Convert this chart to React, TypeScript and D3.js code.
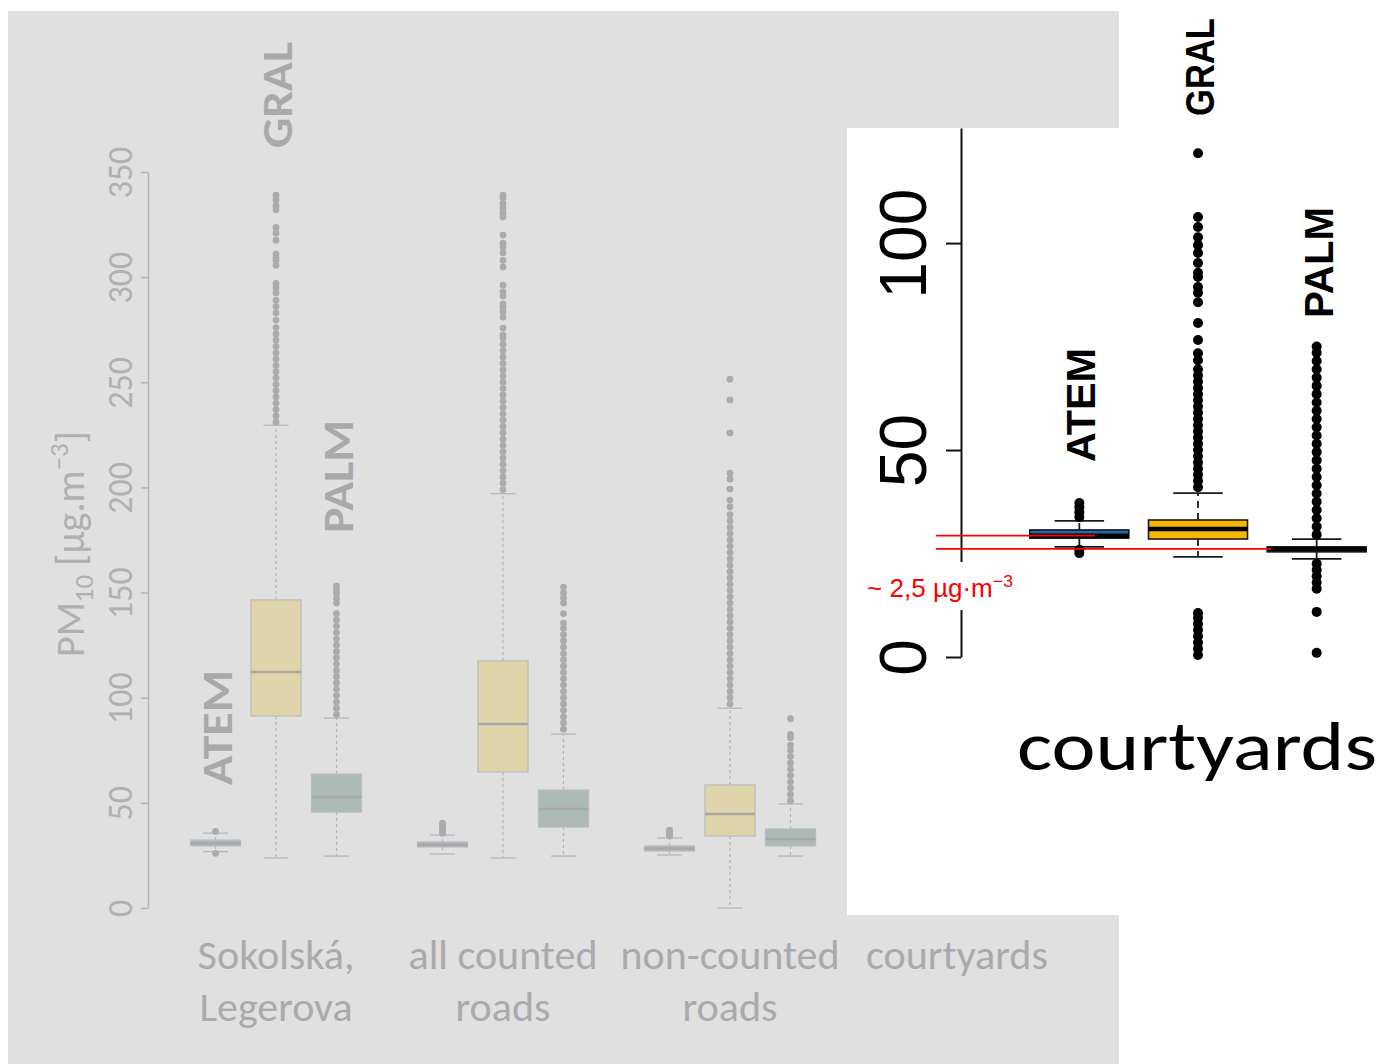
import React, { useEffect, useRef } from "react";
import * as d3 from "d3";

// PM10 boxplots per model (ATEM, GRAL, PALM) for street categories + inset for courtyards

const categories = ["Sokolská,|Legerova", "all counted|roads", "non-counted|roads", "courtyards"];
const models = ["ATEM", "GRAL", "PALM"];
const leftTicks = [0, 50, 100, 150, 200, 250, 300, 350];
const insetTicks = [0, 50, 100];

// [lower whisker, Q1, median, Q3, upper whisker] for ATEM, GRAL, PALM
const sokolskaBoxes = [
  [26.8, 29.5, 30.7, 32.3, 35.6],
  [23.8, 91.3, 112.2, 146.5, 229.6],
  [24.7, 45.6, 52.8, 63.7, 90.3],
];
const countedBoxes = [
  [25.7, 29.0, 30.0, 31.4, 34.7],
  [23.8, 64.7, 87.5, 117.5, 197],
  [24.7, 38.5, 47.1, 56.1, 82.7],
];
const nonCountedBoxes = [
  [25.2, 27.1, 28.3, 29.5, 33.3],
  [0, 34.2, 44.7, 58.5, 95],
  [24.7, 29.5, 32.8, 37.6, 49.5],
];
const courtyardBoxes = [
  [26.6, 28.7, 29.3, 30.7, 32.9],
  [24.2, 28.5, 30.9, 33.1, 39.6],
  [23.7, 25.4, 26.1, 26.6, 28.5],
];

// outliers
const sokolskaOutliers = [
  [26.0, 36.4],
  [231, 234, 237, 240, 243, 246, 249, 252, 255, 258, 261, 264, 267, 270, 273, 276, 279.6, 283, 286, 289, 292.5,
    295, 297, 305.6, 308, 309.5, 311, 317.6, 321, 323.6, 332, 334, 336.7, 339],
  [92, 95, 98, 101, 104, 107, 110, 113, 116, 119, 122, 125, 128, 131, 134, 137, 140, 145, 147.3, 149.8, 151, 153],
];
const countedOutliers = [
  [35.5, 36.5, 37.5, 38.5, 39.5, 40.4],
  [199, 202, 205, 208, 211, 214, 217, 220, 223, 226, 229, 232, 235, 238, 241, 244, 247, 250, 253, 256, 259, 262,
    265, 268, 271, 272.5, 275.8, 281, 283.5, 285.8, 287.2, 291, 293, 296.2, 304.8, 308, 311.5, 314.3, 316.2, 320,
    328.6, 330.5, 332.8, 335, 337.6, 339],
  [85, 88, 91, 94, 97, 100, 103, 106, 109, 112, 115, 118, 121, 124, 127, 130, 133, 135.5, 140, 145, 147.4, 149.8,
    152.6],
];
const nonCountedOutliers = [
  [34.2, 35, 36, 37],
  [97, 100, 103, 106, 109, 112, 115, 118, 121, 124, 127, 130, 133, 136, 139, 142, 145, 148, 151, 154, 157, 160,
    163, 166, 169, 172, 175, 178, 181, 184, 187, 190.7, 194, 199.2, 204, 206.8, 225.9, 241.6, 251.5],
  [51, 54, 57, 60, 63, 66, 69, 72, 75, 77.5, 81, 82.5, 90],
];
const courtyardOutliers = [
  [25.1, 25.9, 33.8, 35, 36.2, 37.2],
  [0.5, 2, 3.5, 5, 6.5, 8, 9.5, 10.6, 41, 42.5, 44, 45.5, 47, 48.5, 50, 51.5, 53, 54.5, 56, 57.5, 59, 60.5, 62,
    63.5, 65, 66.5, 68, 69.5, 71.7, 73.4, 76.6, 80.7, 85.7, 88, 89.4, 91.8, 92.8, 95.2, 97.6, 99.5, 101.4, 103.9,
    106.3, 121.7],
  [1, 10.9, 16.5, 18, 19.5, 21, 22.5, 29.5, 31.5, 33.5, 35.5, 37.5, 39.5, 41.5, 43.5, 45.5, 47.5, 49.5, 51.5, 53.5,
    55.5, 57.5, 59.5, 61.5, 63.5, 65.5, 67.5, 69.5, 71.5, 73.5, 75],
];

const leftBoxes = [sokolskaBoxes, countedBoxes, nonCountedBoxes];
const leftOutliers = [sokolskaOutliers, countedOutliers, nonCountedOutliers];

const GRAY_TEXT = "#b0b0b0";
const LABEL_FONT = "Carlito, 'Open Sans', sans-serif";
const ARIAL = "'Liberation Sans', Arial, sans-serif";

// label widths measured on the reference, used for textLength
const labelWidths: Record<string, number> = {
  "Sokolská,": 157, Legerova: 153, "all counted": 189, roads: 95, "non-counted": 219, courtyards: 182,
};

const drawBox = (g, cx, y, s, outs, st) => {
  const [lo, q1, med, q3, hi] = s;
  const half = st.boxW / 2;
  // whiskers (dashed)
  [[q3, hi], [q1, lo]].forEach(([a, b]) => {
    g.append("line")
      .attr("x1", cx).attr("x2", cx)
      .attr("y1", y(a)).attr("y2", y(b))
      .attr("stroke", st.whisker)
      .attr("stroke-width", st.whiskerW)
      .attr("stroke-dasharray", st.dash);
  });
  // staples
  [hi, lo].forEach((v) => {
    g.append("line")
      .attr("x1", cx - half / 2).attr("x2", cx + half / 2)
      .attr("y1", y(v)).attr("y2", y(v))
      .attr("stroke", st.whisker)
      .attr("stroke-width", st.whiskerW);
  });
  g.append("rect")
    .attr("x", cx - half)
    .attr("y", y(q3))
    .attr("width", st.boxW)
    .attr("height", Math.max(y(q1) - y(q3), 1))
    .attr("fill", st.fill)
    .attr("stroke", st.stroke)
    .attr("stroke-width", st.strokeW);
  g.append("line")
    .attr("x1", cx - half).attr("x2", cx + half)
    .attr("y1", y(med)).attr("y2", y(med))
    .attr("stroke", st.median)
    .attr("stroke-width", st.medianW);
  g.selectAll(null)
    .data(outs)
    .enter()
    .append("circle")
    .attr("cx", cx)
    .attr("cy", (d) => y(d))
    .attr("r", st.r)
    .attr("fill", st.dot);
};

export default function App() {
  const svgRef = useRef<SVGSVGElement>(null);

  useEffect(() => {
    const svg = d3.select(svgRef.current);
    svg.selectAll("*").remove();

    // backgrounds
    svg.append("rect").attr("x", 8).attr("y", 11).attr("width", 1111).attr("height", 1053).attr("fill", "#e0e0e0");
    svg.append("rect").attr("x", 847).attr("y", 128).attr("width", 272).attr("height", 787).attr("fill", "#ffffff");

    // ---------- left panel ----------
    const y = d3.scaleLinear().domain([0, 350]).range([908, 172]);
    const xGroup = d3.scaleBand().domain(categories).range([162.5, 1070.5]).padding(0);
    const xModel = d3.scaleBand().domain(models).range([-90.75, 90.75]).padding(0);
    const center = (c, m) => xGroup(c)! + xGroup.bandwidth() / 2 + xModel(m)! + xModel.bandwidth() / 2;

    const axis = svg
      .append("g")
      .attr("transform", "translate(148,0)")
      .call(d3.axisLeft(y).tickValues(leftTicks).tickSize(7).tickSizeOuter(0));
    axis.select(".domain").attr("stroke", "#b5b5b5").attr("stroke-width", 1.5);
    axis.selectAll(".tick line").attr("stroke", "#b5b5b5").attr("stroke-width", 1.5);
    axis
      .selectAll(".tick text")
      .attr("x", 0)
      .attr("dy", 0)
      .attr("transform", "translate(-16,0) rotate(-90)")
      .attr("text-anchor", "middle")
      .attr("fill", GRAY_TEXT)
      .style("font-family", LABEL_FONT)
      .style("font-size", "34px");

    // y axis title
    const title = svg
      .append("text")
      .attr("transform", "translate(84,657) rotate(-90)")
      .attr("fill", GRAY_TEXT)
      .style("font-family", LABEL_FONT)
      .style("font-size", "40px");
    title.append("tspan").text("PM");
    title.append("tspan").attr("dy", 9).style("font-size", "27px").text("10");
    title.append("tspan").attr("dy", -9).text(" [µg.m");
    title.append("tspan").attr("dy", -16).style("font-size", "27px").text("−3");
    title.append("tspan").attr("dy", 16).text("]");

    const leftFill = { ATEM: "#a9b5c5", GRAL: "#e0d4aa", PALM: "#abbab6" };
    const boxes = svg.append("g");
    leftBoxes.forEach((grp, gi) => {
      grp.forEach((s, mi) => {
        const m = models[mi];
        drawBox(boxes, center(categories[gi], m), y, s, leftOutliers[gi][mi], {
          boxW: 50,
          fill: leftFill[m],
          stroke: "#bdbdbd",
          strokeW: 1.3,
          median: "#a8a8a8",
          medianW: 2.5,
          whisker: "#b3b3b3",
          whiskerW: 1.2,
          dash: "3,3",
          r: 3.4,
          dot: "#ababab",
        });
      });
    });

    // model labels (left)
    const leftLabelPos = { ATEM: 785, GRAL: 148, PALM: 533 };
    const leftLabelLen = { ATEM: 115, GRAL: 106, PALM: 113 };
    models.forEach((m) => {
      svg
        .append("text")
        .attr("transform", `translate(${center(categories[0], m) + 16},${leftLabelPos[m]}) rotate(-90)`)
        .attr("fill", "#a9a9a9")
        .attr("textLength", leftLabelLen[m])
        .attr("lengthAdjust", "spacingAndGlyphs")
        .style("font-family", LABEL_FONT)
        .style("font-weight", "bold")
        .style("font-size", "42px")
        .text(m);
    });

    // category labels
    categories.forEach((c) => {
      const lines = c.split("|");
      lines.forEach((line, li) => {
        svg
          .append("text")
          .attr("x", xGroup(c)! + xGroup.bandwidth() / 2)
          .attr("y", 969 + li * 52)
          .attr("text-anchor", "middle")
          .attr("fill", "#aaaaaa")
          .attr("textLength", labelWidths[line])
          .attr("lengthAdjust", "spacingAndGlyphs")
          .style("font-family", LABEL_FONT)
          .style("font-size", "40px")
          .text(line);
      });
    });

    // ---------- inset: courtyards ----------
    const yIn = d3.scaleLinear().domain([0, 127.8]).range([657, 128]);
    const xIn = d3.scaleBand().domain(models).range([1020, 1376]).padding(0);
    const cIn = (m) => xIn(m)! + xIn.bandwidth() / 2;

    const inAxis = svg
      .append("g")
      .attr("transform", "translate(961,0)")
      .call(d3.axisLeft(yIn).tickValues(insetTicks).tickSize(15).tickSizeOuter(0));
    inAxis.select(".domain").attr("stroke", "#111").attr("stroke-width", 2);
    inAxis.selectAll(".tick line").attr("stroke", "#111").attr("stroke-width", 2);
    inAxis
      .selectAll(".tick text")
      .attr("x", 0)
      .attr("dy", 0)
      .attr("transform", "translate(-35,0) rotate(-90)")
      .attr("text-anchor", "middle")
      .attr("fill", "#000")
      .style("font-family", ARIAL)
      .style("font-size", "66px");

    const inFill = { ATEM: "#2566a8", GRAL: "#f6b700", PALM: "#3a7d44" };
    const inBoxes = svg.append("g");
    courtyardBoxes.forEach((s, mi) => {
      const m = models[mi];
      drawBox(inBoxes, cIn(m), yIn, s, courtyardOutliers[mi], {
        boxW: 99,
        fill: inFill[m],
        stroke: "#1a1a1a",
        strokeW: 1.6,
        median: "#000",
        medianW: 4.5,
        whisker: "#1a1a1a",
        whiskerW: 1.8,
        dash: "7,5",
        r: 5,
        dot: "#000",
      });
    });

    // inset model labels
    const inLabelPos = { ATEM: 462, GRAL: 116, PALM: 318 };
    const inLabelLen = { ATEM: 114, GRAL: 98, PALM: 111 };
    models.forEach((m) => {
      svg
        .append("text")
        .attr("transform", `translate(${cIn(m) + 16},${inLabelPos[m]}) rotate(-90)`)
        .attr("fill", "#000")
        .attr("textLength", inLabelLen[m])
        .attr("lengthAdjust", "spacingAndGlyphs")
        .style("font-family", ARIAL)
        .style("font-weight", "bold")
        .style("font-size", "41px")
        .text(m);
    });

    svg
      .append("text")
      .attr("x", 1017)
      .attr("y", 770)
      .attr("fill", "#000")
      .attr("textLength", 360)
      .attr("lengthAdjust", "spacingAndGlyphs")
      .style("font-family", LABEL_FONT)
      .style("font-size", "70px")
      .text("courtyards");

    // red difference lines (ATEM vs PALM medians)
    svg
      .append("line")
      .attr("x1", 936).attr("x2", 1095)
      .attr("y1", yIn(courtyardBoxes[0][2])).attr("y2", yIn(courtyardBoxes[0][2]))
      .attr("stroke", "#ff0000").attr("stroke-width", 1.8);
    svg
      .append("line")
      .attr("x1", 936).attr("x2", 1271)
      .attr("y1", yIn(courtyardBoxes[2][2])).attr("y2", yIn(courtyardBoxes[2][2]))
      .attr("stroke", "#ff0000").attr("stroke-width", 1.8);

    svg.append("rect").attr("x", 862).attr("y", 562).attr("width", 156).attr("height", 48).attr("fill", "#fff");
    const note = svg
      .append("text")
      .attr("x", 867)
      .attr("y", 597)
      .attr("fill", "#ff0000")
      .attr("textLength", 146)
      .attr("lengthAdjust", "spacingAndGlyphs")
      .style("font-family", ARIAL)
      .style("font-size", "25px");
    note.append("tspan").text("~ 2,5 µg·m");
    note.append("tspan").attr("dy", -10).style("font-size", "17px").text("−3");
  }, []);

  return (
    <svg
      ref={svgRef}
      width={1381}
      height={1064}
      style={{ position: "absolute", left: 0, top: 0, display: "block" }}
    ></svg>
  );
}
